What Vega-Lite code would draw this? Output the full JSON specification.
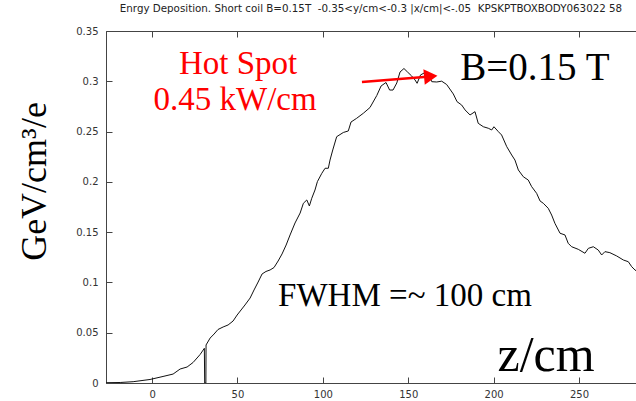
{
  "$schema": "https://vega.github.io/schema/vega-lite/v6.json",
  "width": 530,
  "height": 352,
  "autosize": {"type": "none"},
  "padding": {"left": 106, "top": 31, "right": 0, "bottom": 18},
  "background": "white",
  "config": {
    "view": {"stroke": "#444", "strokeWidth": 1},
    "axis": {
      "labelFont": "DejaVu Sans", "labelFontSize": 10, "labelColor": "#333",
      "tickColor": "#444", "domainColor": "#444", "grid": false,
      "tickSize": -6, "titleFontWeight": "normal"
    }
  },
  "title": {
    "text": "Enrgy Deposition. Short coil B=0.15T \u00a0-0.35<y/cm<-0.3 |x/cm|<-.05 \u00a0KPSKPTBOXBODY063022 58",
    "font": "DejaVu Sans", "fontSize": 10.3, "fontWeight": "normal", "color": "#222",
    "anchor": "middle", "offset": 12
  },
  "datasets": {
    "curve": [
      {"z": -26.9, "v": 0.0003}, {"z": -18.7, "v": 0.0005}, {"z": -11.1, "v": 0.0013},
      {"z": -1.2, "v": 0.0035}, {"z": 6.4, "v": 0.0065}, {"z": 12.3, "v": 0.0089},
      {"z": 16.4, "v": 0.0139}, {"z": 20.5, "v": 0.0159}, {"z": 24.0, "v": 0.0204},
      {"z": 28.1, "v": 0.0283}, {"z": 30.6, "v": 0.0345}, {"z": 30.8, "v": 0.0},
      {"z": 31.5, "v": 0.0}, {"z": 31.6, "v": 0.0378}, {"z": 34.0, "v": 0.0447},
      {"z": 36.3, "v": 0.0487}, {"z": 38.6, "v": 0.0532}, {"z": 41.6, "v": 0.0557},
      {"z": 44.5, "v": 0.0577}, {"z": 47.4, "v": 0.0616}, {"z": 49.8, "v": 0.0676},
      {"z": 52.1, "v": 0.0726}, {"z": 54.4, "v": 0.0776}, {"z": 57.4, "v": 0.0845},
      {"z": 59.7, "v": 0.0925}, {"z": 62.1, "v": 0.1004}, {"z": 64.4, "v": 0.1084},
      {"z": 66.7, "v": 0.1109}, {"z": 69.1, "v": 0.1124}, {"z": 71.4, "v": 0.1148},
      {"z": 73.8, "v": 0.1213}, {"z": 76.1, "v": 0.1283}, {"z": 78.5, "v": 0.1372},
      {"z": 80.8, "v": 0.1472}, {"z": 83.7, "v": 0.1591}, {"z": 86.7, "v": 0.169},
      {"z": 88.6, "v": 0.1787}, {"z": 90.6, "v": 0.182}, {"z": 92.1, "v": 0.176},
      {"z": 93.5, "v": 0.1837}, {"z": 95.4, "v": 0.1919}, {"z": 96.8, "v": 0.2002},
      {"z": 99.4, "v": 0.2085}, {"z": 101.3, "v": 0.2135}, {"z": 103.2, "v": 0.2135},
      {"z": 104.2, "v": 0.2217}, {"z": 105.8, "v": 0.2317}, {"z": 108.1, "v": 0.2449},
      {"z": 112.0, "v": 0.2491}, {"z": 114.9, "v": 0.2506}, {"z": 116.5, "v": 0.2595},
      {"z": 119.8, "v": 0.2632}, {"z": 123.7, "v": 0.2682}, {"z": 127.6, "v": 0.2739},
      {"z": 131.6, "v": 0.2859}, {"z": 134.1, "v": 0.2953}, {"z": 137.0, "v": 0.2988},
      {"z": 139.1, "v": 0.2913}, {"z": 141.1, "v": 0.2913}, {"z": 143.3, "v": 0.2983},
      {"z": 145.2, "v": 0.3092}, {"z": 147.5, "v": 0.3127}, {"z": 149.6, "v": 0.3092},
      {"z": 152.0, "v": 0.3053}, {"z": 154.0, "v": 0.3013}, {"z": 155.2, "v": 0.298},
      {"z": 157.2, "v": 0.3063}, {"z": 159.3, "v": 0.3082}, {"z": 161.8, "v": 0.3078},
      {"z": 163.8, "v": 0.2996}, {"z": 166.7, "v": 0.2993}, {"z": 169.6, "v": 0.3001},
      {"z": 172.5, "v": 0.2968}, {"z": 176.4, "v": 0.2874}, {"z": 178.6, "v": 0.2797},
      {"z": 181.3, "v": 0.2764}, {"z": 183.3, "v": 0.2715}, {"z": 186.2, "v": 0.2665},
      {"z": 189.1, "v": 0.2698}, {"z": 191.0, "v": 0.2582}, {"z": 194.0, "v": 0.2548},
      {"z": 196.9, "v": 0.2533}, {"z": 198.9, "v": 0.2516}, {"z": 200.2, "v": 0.2548},
      {"z": 202.8, "v": 0.2499}, {"z": 204.7, "v": 0.2466}, {"z": 207.7, "v": 0.235},
      {"z": 210.6, "v": 0.2267}, {"z": 212.5, "v": 0.2217}, {"z": 214.5, "v": 0.2118},
      {"z": 217.4, "v": 0.2051}, {"z": 220.3, "v": 0.2018}, {"z": 222.3, "v": 0.1952},
      {"z": 225.2, "v": 0.1886}, {"z": 227.2, "v": 0.181}, {"z": 229.1, "v": 0.1787},
      {"z": 232.0, "v": 0.1737}, {"z": 234.0, "v": 0.167}, {"z": 235.9, "v": 0.1588},
      {"z": 238.9, "v": 0.1489}, {"z": 241.8, "v": 0.1472}, {"z": 243.7, "v": 0.1389},
      {"z": 245.7, "v": 0.1355}, {"z": 249.6, "v": 0.1329}, {"z": 253.5, "v": 0.129},
      {"z": 255.5, "v": 0.1339}, {"z": 258.4, "v": 0.1355}, {"z": 261.3, "v": 0.1322},
      {"z": 263.3, "v": 0.1273}, {"z": 265.2, "v": 0.1306}, {"z": 268.1, "v": 0.1296},
      {"z": 272.1, "v": 0.1263}, {"z": 276.0, "v": 0.1223}, {"z": 278.9, "v": 0.1206},
      {"z": 280.9, "v": 0.1156}, {"z": 282.8, "v": 0.1124}, {"z": 284.0, "v": 0.111}
    ]
  },
  "resolve": {"axis": {"x": "independent"}},
  "layer": [
    {
      "data": {"name": "curve"},
      "mark": {"type": "line", "color": "#111", "strokeWidth": 1, "clip": true},
      "encoding": {
        "x": {"field": "z", "type": "quantitative",
              "scale": {"domain": [-27, 283.4], "nice": false, "zero": false},
              "axis": {"values": [0, 50, 100, 150, 200, 250], "title": null, "labelPadding": 12}},
        "y": {"field": "v", "type": "quantitative",
              "scale": {"domain": [0, 0.35], "nice": false},
              "axis": {"values": [0, 0.05, 0.1, 0.15, 0.2, 0.25, 0.3, 0.35], "format": "~g",
                       "labelPadding": 14,
                       "title": "GeV/cm³/e", "titleFont": "Liberation Serif", "titleFontSize": 36,
                       "titleColor": "#000", "titleAngle": -90, "titleAlign": "center",
                       "titleBaseline": "middle", "titleX": -72, "titleY": 150}}
      }
    },
    {
      "data": {"values": [{"z1": 122.9, "v1": 0.2993, "z2": 163.0, "v2": 0.3048}]},
      "mark": {"type": "rule", "color": "#ff0000", "strokeWidth": 2.5},
      "encoding": {
        "x": {"field": "z1", "type": "quantitative", "axis": null},
        "y": {"field": "v1", "type": "quantitative"},
        "x2": {"field": "z2"},
        "y2": {"field": "v2"}
      }
    },
    {
      "data": {"values": [{"z": 163.2, "v": 0.3048}]},
      "mark": {"type": "point", "shape": "triangle-right", "filled": true, "color": "#ff0000", "size": 240, "opacity": 1, "angle": -5},
      "encoding": {
        "x": {"field": "z", "type": "quantitative", "axis": null},
        "y": {"field": "v", "type": "quantitative"}
      }
    },
    {
      "data": {"values": [{"z": 50.4, "v": 0.317, "label": "Hot Spot"}, {"z": 48.6, "v": 0.2814, "label": "0.45 kW/cm"}]},
      "mark": {"type": "text", "font": "Liberation Serif", "fontSize": 33, "color": "#ff0000", "align": "center", "baseline": "middle"},
      "encoding": {
        "x": {"field": "z", "type": "quantitative", "axis": null},
        "y": {"field": "v", "type": "quantitative"},
        "text": {"field": "label"}
      }
    },
    {
      "data": {"values": [{"z": 224.2, "v": 0.313, "label": "B=0.15 T"}]},
      "mark": {"type": "text", "font": "Liberation Serif", "fontSize": 39, "color": "#000", "align": "center", "baseline": "middle"},
      "encoding": {
        "x": {"field": "z", "type": "quantitative", "axis": null},
        "y": {"field": "v", "type": "quantitative"},
        "text": {"field": "label"}
      }
    },
    {
      "data": {"values": [{"z": 148.1, "v": 0.0865, "label": "FWHM =~ 100 cm"}]},
      "mark": {"type": "text", "font": "Liberation Serif", "fontSize": 33, "color": "#000", "align": "center", "baseline": "middle"},
      "encoding": {
        "x": {"field": "z", "type": "quantitative", "axis": null},
        "y": {"field": "v", "type": "quantitative"},
        "text": {"field": "label"}
      }
    },
    {
      "data": {"values": [{"z": 230.7, "v": 0.0268, "label": "z/cm"}]},
      "mark": {"type": "text", "font": "Liberation Serif", "fontSize": 50, "color": "#000", "align": "center", "baseline": "middle"},
      "encoding": {
        "x": {"field": "z", "type": "quantitative",
              "axis": {"orient": "top", "values": [0, 50, 100, 150, 200, 250], "labels": false, "domain": false, "title": null}},
        "y": {"field": "v", "type": "quantitative"},
        "text": {"field": "label"}
      }
    }
  ]
}
